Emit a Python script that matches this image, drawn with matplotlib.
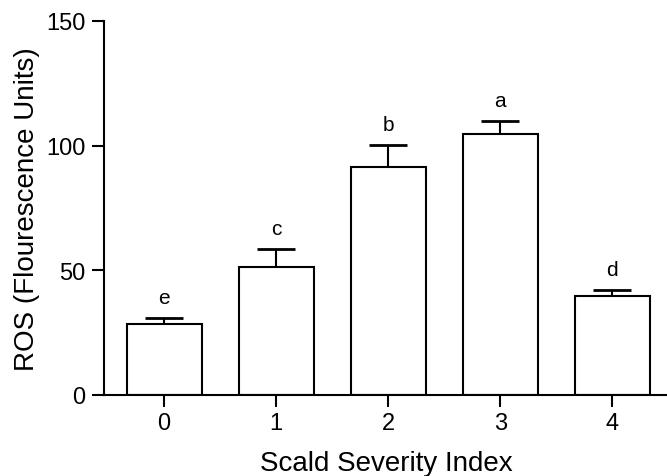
import numpy as np
import matplotlib.pyplot as plt

plt.rcParams["font.family"] = ["Liberation Sans", "DejaVu Sans"]

# Data
severity = ["0", "1", "2", "3", "4"]
ros_mean = [28.5, 51.3, 91.6, 104.6, 39.7]
ros_err = [2.5, 7.3, 8.5, 5.4, 2.4]
letters = ["e", "c", "b", "a", "d"]

fig = plt.figure(figsize=(6.67, 4.77), dpi=100)
ax = fig.add_axes([0.156, 0.170, 0.846, 0.784])

x = np.arange(len(severity))
ax.bar(x, ros_mean, width=0.67, color="white", edgecolor="black", linewidth=1.5, zorder=2)
ax.errorbar(x, ros_mean, yerr=[np.zeros(len(x)), ros_err], fmt="none",
            ecolor="black", elinewidth=1.5, capsize=13.5, capthick=2, zorder=1)

for xi, m, e, lab in zip(x, ros_mean, ros_err, letters):
    ax.annotate(lab, (xi, m + e), xytext=(0, 8), textcoords="offset points",
                ha="center", va="bottom", fontsize=15)

ax.set_xlim(-0.536, 4.5)
ax.set_ylim(0, 150)
ax.set_yticks([0, 50, 100, 150])
ax.set_xticks(x)
ax.set_xticklabels(severity)
ax.spines["top"].set_visible(False)
ax.spines["right"].set_visible(False)
for s in ["left", "bottom"]:
    ax.spines[s].set_linewidth(1.5)
ax.tick_params(axis="both", labelsize=17, width=1.5, length=8.5, pad=4)
ax.tick_params(axis="y", pad=5)
ax.set_xlabel("Scald Severity Index", fontsize=20, labelpad=11)
ax.set_ylabel("ROS (Flourescence Units)", fontsize=20, labelpad=4)

fig.savefig("out.png", dpi=100)
